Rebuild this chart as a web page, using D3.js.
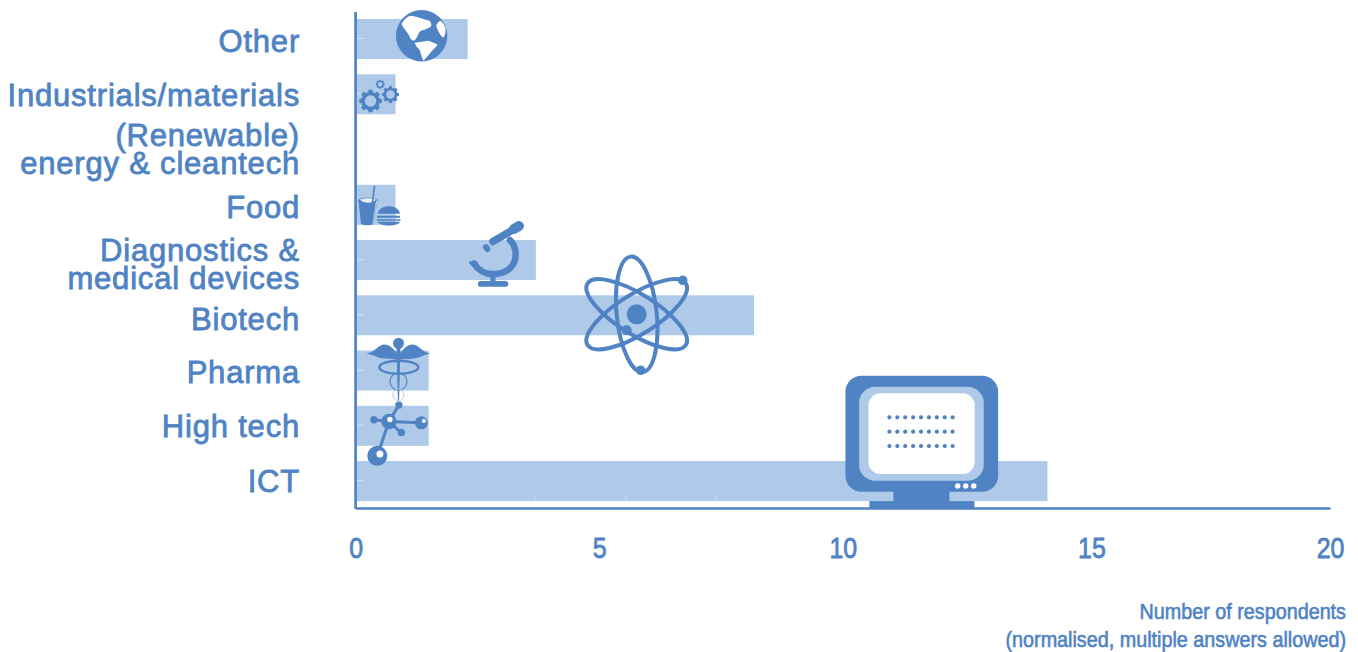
<!DOCTYPE html>
<html>
<head>
<meta charset="utf-8">
<script src="https://cdn.jsdelivr.net/npm/d3@7"></script>
<style>
html,body{margin:0;padding:0;background:#fff;}
svg{display:block;}
text{font-family:"Liberation Sans",Arial,sans-serif;fill:#4f83c4;stroke:#4f83c4;}
</style>
</head>
<body>
<svg id="chart" width="1358" height="652"></svg>
<script>
// Survey responses per sector, top row first
const categories = ["Other","Industrials/materials","Energy","Food","Diagnostics","Biotech","Pharma","High tech","ICT"];
const categoryLabels = [["Other"],["Industrials/materials"],["(Renewable)","energy & cleantech"],["Food"],["Diagnostics &","medical devices"],["Biotech"],["Pharma"],["High tech"],["ICT"]];
const respondents = [2.3,0.82,0,0.82,3.7,8.18,1.5,1.5,14.2];
const xTicks = [0,5,10,15,20];
const xTickNudge = [0,0,0,5,0];
const labelNudge = [2,1,0,3,4,4,2,1,0];
const faintTicks = [3.7,5.55,7.4];
const axisTitle = ["Number of respondents","(normalised, multiple answers allowed)"];
// Where each pictogram sits along the value axis
const iconKeys = ["globe","gears","food","microscope","atom","caduceus","molecule","monitor"];
const iconCategory = ["Other","Industrials/materials","Food","Diagnostics","Biotech","Pharma","High tech","ICT"];
const iconValue = [1.355,0.47,0.5,2.9,5.77,0.87,0.7,11.62];

const DARK="#4f83c4", LIGHT="#afcae9";
const svg=d3.select("#chart");
const x=d3.scaleLinear().domain([0,20]).range([355.6,1330]);
const y=d3.scaleBand().domain(categories).range([11.4,508.7]).paddingInner(0.276).paddingOuter(0.138);

// Bars
svg.append("g").selectAll("rect").data(categories).join("rect")
  .attr("x",x(0)).attr("y",d=>y(d))
  .attr("width",(d,i)=>Math.max(0,x(respondents[i])-x(0)))
  .attr("height",y.bandwidth()).attr("fill",LIGHT)
  .attr("display",(d,i)=>respondents[i]>0?null:"none");

// Pale tick marks showing through the bars
svg.append("g").selectAll("line").data(categories.filter((d,i)=>respondents[i]>0)).join("line")
  .attr("x1",x(0)).attr("x2",x(0)+8)
  .attr("y1",d=>y(d)+y.bandwidth()/2-0.5).attr("y2",d=>y(d)+y.bandwidth()/2-0.5)
  .attr("stroke","#fff").attr("stroke-opacity",0.5);
svg.append("g").selectAll("line").data(faintTicks).join("line")
  .attr("x1",d=>x(d)).attr("x2",d=>x(d)).attr("y1",495).attr("y2",510)
  .attr("stroke","#fff").attr("stroke-opacity",0.35);

// Category labels
const labels=svg.append("g");
categories.forEach((c,i)=>{
  const lines=categoryLabels[i], cy=y(c)+y.bandwidth()/2+labelNudge[i];
  lines.forEach((t,k)=>{
    labels.append("text").attr("x",300).attr("text-anchor","end")
      .attr("y",cy+10.5+(k-(lines.length-1)/2)*28)
      .attr("font-size",31).attr("letter-spacing",0.8).attr("stroke-width",0.8).text(t);
  });
});

// Axis title, squeezed horizontally
axisTitle.forEach((t,i)=>{
  svg.append("text").attr("text-anchor","end")
    .attr("transform",`translate(1346,${619+i*28}) scale(0.92,1)`)
    .attr("font-size",21.5).attr("stroke-width",0.6)
    .text(t);
});

// Pictograms, drawn around a local origin
const icons={
  globe(g){
    g.append("circle").attr("r",25.7).attr("fill",DARK);
    g.append("path").attr("fill","#fff").attr("d","M-20,-12 C-17,-17 -14,-20 -10,-20 C-4,-19 3,-16 8,-15 C10,-13 10,-10 9,-9 C5,-6 1,-6 -2,-4 C-4,-1 -5,4 -8,5 C-11,4 -12,1 -13,-1 C-15,-5 -19,-8 -20,-12Z M15,-11 C16,-13 18,-15 19,-15 C22,-12 24,-9 24,-6 C24,-3 23,0 22,2 C20,1 18,-2 17,-4 C16,-7 14,-9 15,-11Z M-7,7 C-3,6 3,6 7,5 C10,6 14,8 16,9 C14,12 10,15 8,18 C6,20 4,23 2,25 C0,22 -1,17 -2,14 C-4,12 -6,10 -7,7Z");
  },
  gears(g){
    const gear=(cx,cy,r,w,n)=>{
      const a=g.append("g").attr("transform",`translate(${cx},${cy})`);
      a.append("circle").attr("r",r).attr("fill","none").attr("stroke",DARK).attr("stroke-width",w);
      d3.range(n).forEach(i=>a.append("rect").attr("x",-w*0.6).attr("y",-r-w*1.05).attr("width",w*1.2).attr("height",w).attr("fill",DARK).attr("transform",`rotate(${i*360/n})`));
    };
    gear(-8,7.7,7.5,3.6,8); gear(12,1.3,5.6,2.7,8); gear(1.7,-9,3,1.4,8);
  },
  food(g){
    g.append("path").attr("fill",DARK).attr("d","M-21.7,-9 C-17,-12 -7,-12 -2.4,-9 L-6.4,15 C-9,17 -16,17 -19,15Z");
    g.append("path").attr("fill","#e6eef8").attr("d","M-20,-9 C-16,-11 -8,-11 -4,-9 C-8,-5 -16,-5 -20,-9Z");
    g.append("path").attr("fill",LIGHT).attr("d","M-4,-8 L-7.5,15 L-6.4,15 L-2.6,-8Z");
    g.append("line").attr("x1",-7.7).attr("y1",-5).attr("x2",-5.4).attr("y2",-23).attr("stroke",DARK).attr("stroke-width",1.6);
    g.append("path").attr("fill",DARK).attr("d","M-2.2,5 C-1,-5 19,-5 20,5Z M-3,7 H20 V9 H-3Z M-3,10.5 H20.5 V12 H-3Z M-2,13 H20 C19,18 -1,18 -2,13Z");
  },
  microscope(g){
    const stroke=(d,w)=>g.append("path").attr("fill","none").attr("stroke",DARK).attr("stroke-width",w).attr("stroke-linecap","round").attr("d",d);
    stroke("M12.9,-13 C23,-4 22,21 -4.7,21 C-13,21 -19,16 -23,10.5",6.5);
    stroke("M-4,-11.5 L16.9,-23.7",7.5);
    stroke("M17,-24 L22,-27",10);
    stroke("M-11,-6 L-9.5,-4",6);
    g.append("path").attr("fill",DARK).attr("d","M-28,8.5 H-19 V11.5 H-26 C-27.5,11.5 -28,10 -28,8.5Z");
    g.append("rect").attr("x",-6.4).attr("y",19).attr("width",5).attr("height",10).attr("fill",DARK);
    g.append("rect").attr("x",-19).attr("y",28).attr("width",30.4).attr("height",5.7).attr("rx",2.8).attr("fill",DARK);
  },
  atom(g){
    [-6,58,122].forEach(a=>g.append("ellipse").attr("rx",20).attr("ry",58).attr("fill","none").attr("stroke",DARK).attr("stroke-width",4).attr("transform",`rotate(${a})`));
    [[0,0,10],[-10,16,5],[46,-34,4.8],[4,56,4.8]].forEach(d=>g.append("circle").attr("cx",d[0]).attr("cy",d[1]).attr("r",d[2]).attr("fill",DARK));
  },
  caduceus(g){
    g.append("circle").attr("cx",0.5).attr("cy",-27.3).attr("r",5.5).attr("fill",DARK);
    [1,-1].forEach(s=>g.append("path").attr("fill",DARK).attr("transform",`translate(0.5,0) scale(${s},1)`)
      .attr("d","M-32,-17 C-24,-18 -20,-26 -14,-26 C-9,-26 -5,-22 -1.5,-17 L-1.5,-11 C-8,-12 -14,-11 -20,-13 C-24,-15 -28,-16 -32,-17Z"));
    g.append("path").attr("fill",DARK).attr("d","M-1.5,-24 H2.5 L1.1,30 H-0.1Z");
    g.append("ellipse").attr("cx",0.8).attr("cy",-3.3).attr("rx",19.5).attr("ry",6.5).attr("fill","none").attr("stroke",DARK).attr("stroke-width",2.4);
    g.append("ellipse").attr("cx",0.5).attr("cy",11).attr("rx",8.5).attr("ry",8.5).attr("fill","none").attr("stroke",DARK).attr("stroke-width",1.2);
    g.append("ellipse").attr("cx",0.5).attr("cy",24.3).attr("rx",5.5).attr("ry",6).attr("fill","none").attr("stroke",LIGHT).attr("stroke-width",1);
  },
  molecule(g){
    g.append("path").attr("fill","none").attr("stroke",DARK).attr("stroke-width",3)
      .attr("d","M-0.8,0.7 L-12.4,35 M-0.8,0.7 L9.2,-15.7 M-0.8,0.7 L-15.8,-1 M-0.8,0.7 L31.6,2 M-0.8,0.7 L11.6,11.7");
    [[-0.8,0.7,7.7],[9.2,-15.7,3.7],[-15.8,-1,3.7],[11.6,11.7,3.7],[31.6,2,6.5],[-12.4,35,10]].forEach(d=>g.append("circle").attr("cx",d[0]).attr("cy",d[1]).attr("r",d[2]).attr("fill",DARK));
    [[0.2,-1.3,2.7],[34.2,0.3,2],[-9.8,33.3,3.5]].forEach(d=>g.append("circle").attr("cx",d[0]).attr("cy",d[1]).attr("r",d[2]).attr("fill","#fff"));
  },
  monitor(g){
    g.append("rect").attr("x",-28.3).attr("y",38).attr("width",56).attr("height",12).attr("fill",DARK);
    g.append("rect").attr("x",-52.3).attr("y",49).attr("width",105).attr("height",7.3).attr("fill",DARK);
    g.append("rect").attr("x",-76.3).attr("y",-76.3).attr("width",152.7).attr("height",116).attr("rx",16).attr("fill",DARK);
    g.append("rect").attr("x",-62.6).attr("y",-65.3).attr("width",124.6).attr("height",94).attr("rx",16).attr("fill",LIGHT);
    g.append("rect").attr("x",-53.3).attr("y",-58.7).attr("width",106.3).attr("height",80.7).attr("rx",12).attr("fill","#fff");
    d3.range(3).forEach(r=>d3.range(9).forEach(c=>g.append("circle").attr("cx",-32.3+c*7.9).attr("cy",-34.7+r*14.35).attr("r",2.1).attr("fill",DARK)));
    d3.range(3).forEach(c=>g.append("circle").attr("cx",36+c*8).attr("cy",34).attr("r",2.7).attr("fill","#fff"));
  }
};
// Vertical offset of each pictogram from its bar's centre
const iconLift={globe:-3.3,gears:-1,food:4,microscope:-7,atom:-1,caduceus:0,molecule:-5,monitor:-29};
iconKeys.forEach((k,i)=>{
  const c=iconCategory[i];
  const g=svg.append("g").attr("class","icon-"+k)
    .attr("transform",`translate(${x(iconValue[i])},${y(c)+y.bandwidth()/2+iconLift[k]})`);
  icons[k](g);
});

// Axes sit on top of the bars and pictograms
const xAxis=d3.axisBottom(x).tickValues(xTicks).tickSize(0).tickPadding(29);
const gx=svg.append("g").attr("transform","translate(0,508)").call(xAxis);
gx.select(".domain").attr("stroke",DARK).attr("stroke-width",2.5);
gx.selectAll("text").attr("font-size",29).attr("stroke-width",0.8)
  .attr("transform",(d,i)=>`translate(${xTickNudge[i]},0) scale(0.86,1)`);
svg.append("line").attr("x1",355.6).attr("x2",355.6).attr("y1",12).attr("y2",509).attr("stroke",DARK).attr("stroke-width",2.7);
</script>
</body>
</html>
